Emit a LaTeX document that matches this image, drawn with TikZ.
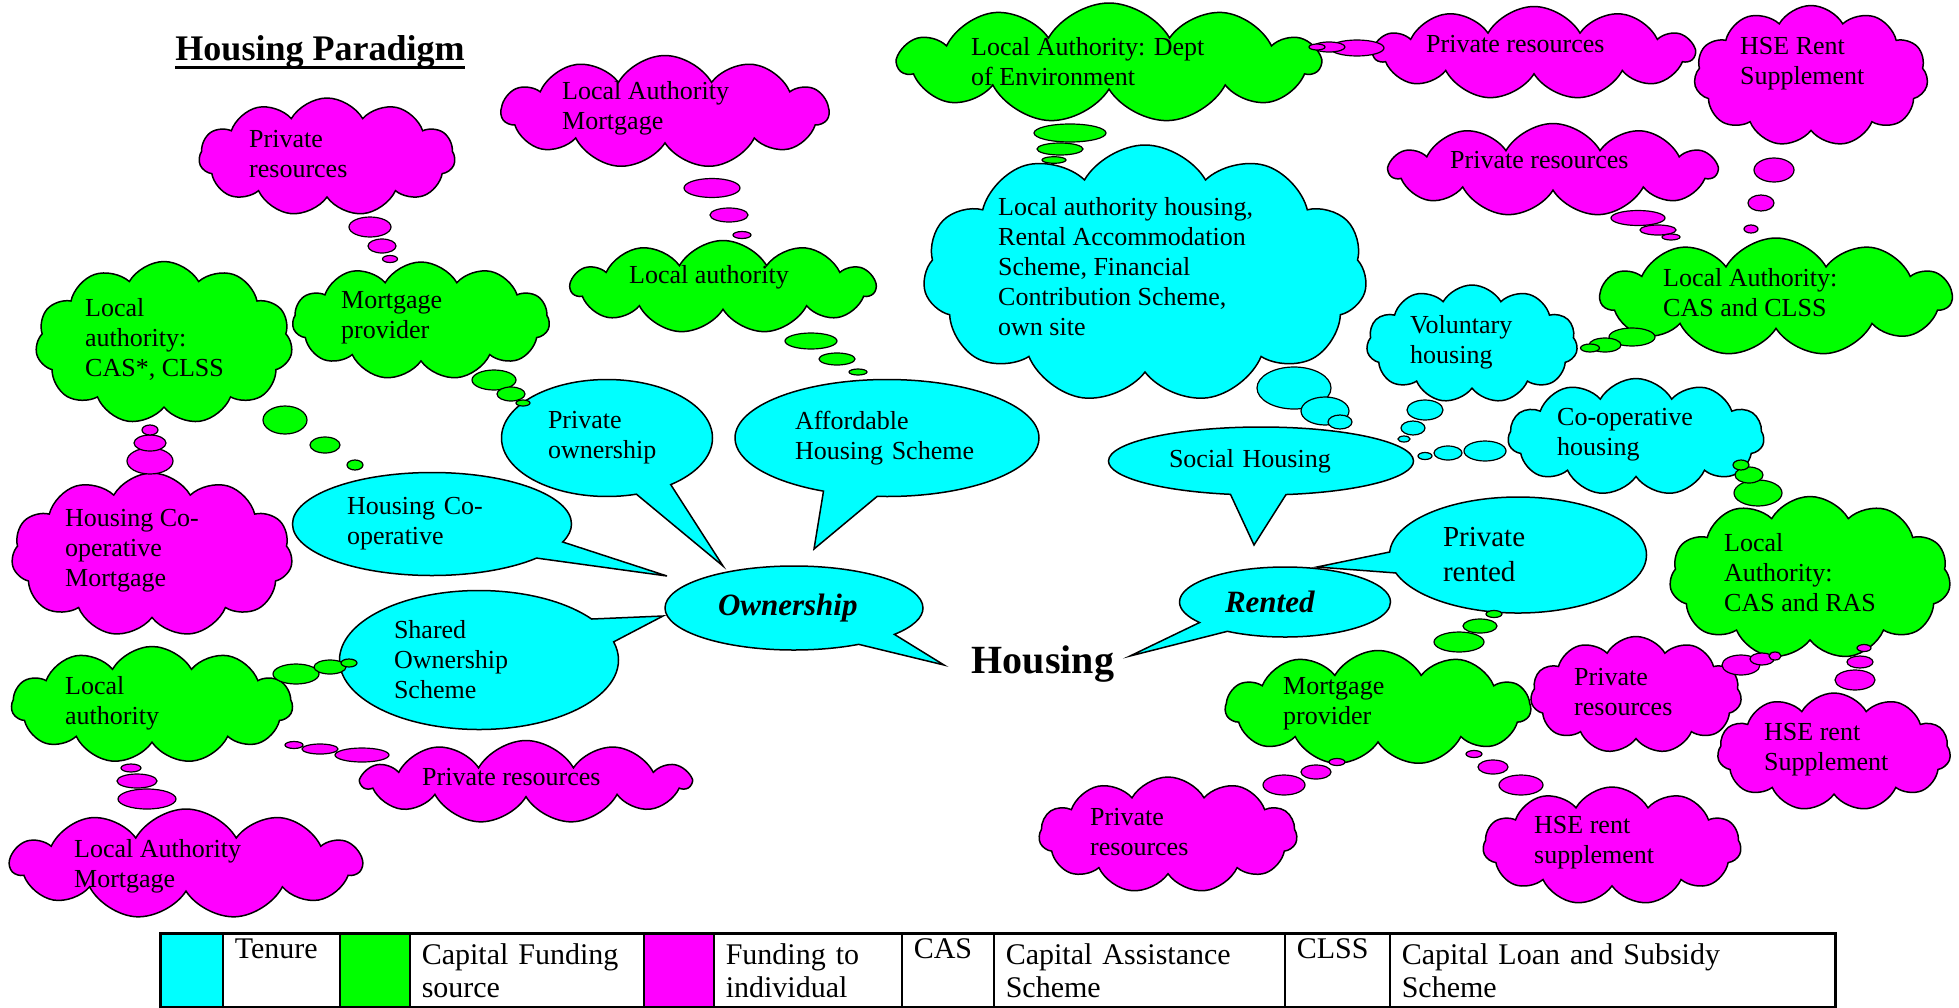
\documentclass[tikz,border=0pt]{standalone}
\usepackage{fontspec}
\setmainfont{Liberation Serif}
\usetikzlibrary{shapes.symbols,shapes.callouts}
\definecolor{tenure}{RGB}{0,255,255}
\definecolor{capital}{RGB}{0,255,0}
\definecolor{individual}{RGB}{255,0,255}
\newcommand{\bodyfont}{\fontsize{26}{30}\selectfont}
\newcommand{\keyfont}{\fontsize{30}{33}\selectfont}
\tikzset{puff/.style={cloud,cloud puffs=11,cloud puff arc=120,cloud ignores aspect,draw,line width=1.5pt,inner sep=0pt},
         txt/.style={anchor=west,align=left,inner sep=0pt,font=\bodyfont},
         talk/.style={ellipse callout,draw,line width=1.5pt,fill=tenure,callout pointer arc=21,align=left,inner sep=0pt,font=\bodyfont},
         bub/.style={draw,line width=1.2pt},
         keycell/.style={draw,line width=1.5pt,anchor=north west,minimum height=73pt,inner xsep=12pt,inner ysep=0pt,align=left,font=\keyfont}
}

\begin{document}
\begin{tikzpicture}[x=1pt,y=-1pt]
\useasboundingbox (0,0) rectangle (1959,1007);

\node[puff,fill=individual,minimum width=256pt,minimum height=118pt] (privres1) at (327,157) {};
\node[puff,fill=capital,minimum width=257pt,minimum height=118pt] (mortprov1) at (421,321) {};
\node[puff,fill=capital,minimum width=257pt,minimum height=163pt] (lacas) at (164,343) {};
\node[puff,fill=individual,minimum width=327pt,minimum height=113pt] (lamort1) at (665,112) {};
\node[puff,fill=capital,minimum width=304pt,minimum height=93pt] (laown) at (723,287) {};
\node[puff,fill=capital,minimum width=421pt,minimum height=120pt] (ladept) at (1109,63) {};
\node[puff,fill=tenure,minimum width=444pt,minimum height=258pt] (lahousing) at (1145,274) {};
\node[puff,fill=individual,minimum width=320pt,minimum height=93pt] (privres2) at (1534,53) {};
\node[puff,fill=individual,minimum width=234pt,minimum height=141pt] (hse1) at (1811,76) {};
\node[puff,fill=individual,minimum width=327pt,minimum height=93pt] (privres3) at (1553,170) {};
\node[puff,fill=capital,minimum width=351pt,minimum height=118pt] (laclss) at (1776,297) {};
\node[puff,fill=tenure,minimum width=211pt,minimum height=118pt] (volhousing) at (1472,344) {};
\node[puff,fill=tenure,minimum width=256pt,minimum height=117pt] (coophousing) at (1636,437) {};
\node[puff,fill=capital,minimum width=281pt,minimum height=163pt] (laras) at (1810,578) {};
\node[puff,fill=capital,minimum width=305pt,minimum height=115pt] (mortprov2) at (1378,708) {};
\node[puff,fill=individual,minimum width=211pt,minimum height=117pt] (privres4) at (1636,695) {};
\node[puff,fill=individual,minimum width=233pt,minimum height=118pt] (hse2) at (1834,752) {};
\node[puff,fill=individual,minimum width=258pt,minimum height=118pt] (hse3) at (1612,846) {};
\node[puff,fill=individual,minimum width=258pt,minimum height=116pt] (privres5) at (1168,835) {};
\node[puff,fill=individual,minimum width=281pt,minimum height=164pt] (coopmort) at (152,555) {};
\node[puff,fill=capital,minimum width=281pt,minimum height=117pt] (lashared) at (152,705) {};
\node[puff,fill=individual,minimum width=328pt,minimum height=83pt] (privres6) at (526,782) {};
\node[puff,fill=individual,minimum width=351pt,minimum height=110pt] (lamort2) at (186,864) {};

\node[txt] (privres1txt) at (249,154) {Private\\resources};
\node[txt] (mortprov1txt) at (341,318) {Mortgage\\provider};
\node[txt] (lacastxt) at (85,339) {Local\\authority:\\CAS*, CLSS};
\node[txt] (lamort1txt) at (562,108) {Local Authority\\Mortgage};
\node[txt] (laowntxt) at (629,277) {Local authority};
\node[txt] (ladepttxt) at (971,62) {Local Authority: Dept\\of Environment};
\node[txt] (lahousingtxt) at (998,267) {Local authority housing,\\Rental Accommodation\\Scheme, Financial\\Contribution Scheme,\\own site};
\node[txt] (privres2txt) at (1426,44) {Private resources};
\node[txt] (hse1txt) at (1740,64) {HSE Rent\\Supplement};
\node[txt] (privres3txt) at (1450,160) {Private resources};
\node[txt] (laclsstxt) at (1663,293) {Local Authority:\\CAS and CLSS};
\node[txt] (volhousingtxt) at (1410,342) {Voluntary\\housing};
\node[txt] (coophousingtxt) at (1557,435) {Co-operative\\housing};
\node[txt] (larastxt) at (1724,573) {Local\\Authority:\\CAS and RAS};
\node[txt] (mortprov2txt) at (1283,704) {Mortgage\\provider};
\node[txt] (privres4txt) at (1574,692) {Private\\resources};
\node[txt] (hse2txt) at (1764,750) {HSE rent\\Supplement};
\node[txt] (hse3txt) at (1534,843) {HSE rent\\supplement};
\node[txt] (privres5txt) at (1090,832) {Private\\resources};
\node[txt] (coopmorttxt) at (65,551) {Housing Co-\\operative\\Mortgage};
\node[txt] (lasharedtxt) at (65,703) {Local\\authority};
\node[txt] (privres6txt) at (422,777) {Private resources};
\node[txt] (lamort2txt) at (74,866) {Local Authority\\Mortgage};

\node[talk,minimum width=258pt,minimum height=84pt,text width=152pt,font=\fontsize{31}{35}\selectfont\bfseries\itshape,callout absolute pointer={(944,665)}] (ownership) at (794,608) {Ownership};
\node[talk,minimum width=211pt,minimum height=70pt,text width=120pt,font=\fontsize{31}{35}\selectfont\bfseries\itshape,callout absolute pointer={(1130,656)}] (rented) at (1285,602) {Rented};
\node[talk,minimum width=211pt,minimum height=117pt,text width=118pt,callout absolute pointer={(723,566)}] (privown) at (607,438) {Private\\ownership};
\node[talk,minimum width=304pt,minimum height=117pt,text width=184pt,callout absolute pointer={(814,549)}] (affordable) at (887,438) {Affordable\\Housing Scheme};
\node[talk,minimum width=279pt,minimum height=103pt,text width=170pt,callout absolute pointer={(667,576)}] (hcoop) at (432,524) {Housing Co-\\operative};
\node[talk,minimum width=279pt,minimum height=139pt,text width=170pt,callout absolute pointer={(663,616)}] (shared) at (479,660) {Shared\\Ownership\\Scheme};
\node[talk,minimum width=305pt,minimum height=68pt,text width=184pt,callout absolute pointer={(1254,545)}] (social) at (1261,461) {Social Housing};
\node[talk,minimum width=257pt,minimum height=116pt,text width=150pt,font=\fontsize{29}{35}\selectfont,callout absolute pointer={(1317,567)}] (privrented) at (1518,555) {Private\\rented};

\foreach \x/\y/\a/\b in {370/227/21/10, 382/246/14/7, 390/259/7.5/3.5,
    712/188/28/9.5, 729/215/19/7, 742/235/9/3.5,
    150/461/23/13, 150/443/16/8, 150/430/8/5,
    131/768/10/4, 137/781/20/7, 147/799/29/10,
    362/755/27/7, 320/749/18/5, 294/745/9/3.5,
    1357/48/27/8, 1329/47/16/5, 1317/47/8/3,
    1774/170/20/12, 1761/203/13/8, 1751/229/7/4,
    1638/218/27/7.5, 1658/230/18/5, 1671/237/9/3,
    1284/785/21/10, 1316/772/15/7, 1337/762/8/3.5,
    1521/785/22/10, 1493/767/15/7, 1474/754/8/3.5,
    1741/665/19/10, 1762/659/12/6, 1775/656/6/4,
    1855/680/20/10, 1860/662/13/6, 1864/648/7/3.5}
  \draw[bub,fill=individual] (\x,\y) ellipse [x radius=\a pt,y radius=\b pt];

\foreach \x/\y/\a/\b in {494/380/22/10, 511/394/14/7, 523/403/7/3,
    285/420/22/14, 325/445/15/8, 355/465/8/5,
    811/341/26/8, 837/359/18/6, 858/372/9/3,
    296/674/23/10, 330/667/16/7, 349/663/8/4,
    1070/133/36/9, 1060/149/23/6, 1054/160/12/3.3,
    1632/337/23/9, 1605/345/16/7, 1590/348/9.5/4,
    1758/493/24/13, 1749/475/14/8, 1741/465/8/5,
    1459/642/25/10, 1480/626/17/7, 1494/614/8/3.5}
  \draw[bub,fill=capital] (\x,\y) ellipse [x radius=\a pt,y radius=\b pt];

\foreach \x/\y/\a/\b in {1294/388/37/21, 1325/411/24/14, 1340/422/12/7,
    1425/410/18/10, 1413/428/12/7, 1404/439/6/3,
    1485/451/21/10, 1448/453/14/7, 1425/456/7/3.5}
  \draw[bub,fill=tenure] (\x,\y) ellipse [x radius=\a pt,y radius=\b pt];

\node[font=\fontsize{36}{40}\selectfont\bfseries,anchor=base,inner sep=0pt] (title) at (320,60) {Housing Paradigm};
\draw[line width=3pt] ([yshift=-7pt]title.base west) -- ([yshift=-7pt]title.base east);
\node[font=\fontsize{40}{44}\selectfont\bfseries,anchor=base] (housing) at (1043,673) {Housing};

\node[keycell,fill=tenure,minimum width=62pt,inner sep=0pt] (keyten) at (160,933) {};
\node[keycell,text width=93pt] (keytenure) at (222,933) {Tenure\\\strut};
\node[keycell,fill=capital,minimum width=70pt,inner sep=0pt] (keycap) at (339,933) {};
\node[keycell,text width=210pt] (keycapital) at (409,933) {Capital Funding\\source};
\node[keycell,fill=individual,minimum width=70pt,inner sep=0pt] (keyind) at (643,933) {};
\node[keycell,text width=164pt] (keyindividual) at (713,933) {Funding to\\individual};
\node[keycell,text width=68pt] (keycas) at (901,933) {CAS\\\strut};
\node[keycell,text width=267pt] (keycasname) at (993,933) {Capital Assistance\\Scheme};
\node[keycell,text width=81pt] (keyclss) at (1284,933) {CLSS\\\strut};
\node[keycell,text width=421pt] (keyclssname) at (1389,933) {Capital Loan and Subsidy\\Scheme};
\draw[line width=2pt] (keyten.north west) rectangle (keyclssname.south east);

\end{tikzpicture}
\end{document}
